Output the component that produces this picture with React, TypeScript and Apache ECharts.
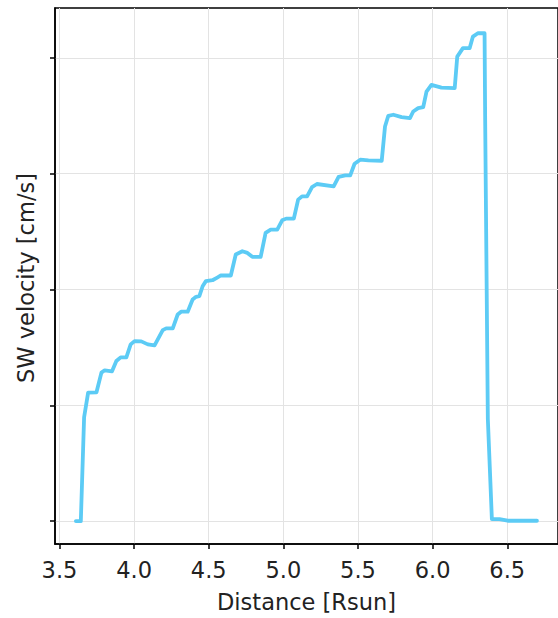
import React, { useEffect, useRef } from "react";
import * as echarts from "echarts";

// Distance [Rsun]
const distance: number[] = [
  3.61, 3.643, 3.665, 3.692, 3.748, 3.781, 3.803, 3.852, 3.881, 3.91,
  3.948, 3.977, 4.003, 4.048, 4.092, 4.137, 4.192, 4.215, 4.259, 4.292,
  4.315, 4.359, 4.392, 4.415, 4.437, 4.459, 4.481, 4.525, 4.557, 4.581,
  4.648, 4.681, 4.725, 4.759, 4.792, 4.848, 4.881, 4.915, 4.959, 4.992,
  5.019, 5.07, 5.099, 5.125, 5.159, 5.192, 5.225, 5.337, 5.37, 5.415,
  5.448, 5.477, 5.515, 5.57, 5.659, 5.681, 5.703, 5.737, 5.792, 5.848,
  5.87, 5.903, 5.937, 5.959, 5.992, 6.059, 6.148, 6.165, 6.203, 6.248,
  6.27, 6.303, 6.348, 6.352, 6.37, 6.388, 6.397, 6.448, 6.503, 6.699,
];

// SW velocity (arbitrary units, tick labels hidden in the original)
const velocity: number[] = [
  0, 0, 0.897, 1.109, 1.112, 1.282, 1.302, 1.293, 1.382, 1.414,
  1.414, 1.526, 1.554, 1.552, 1.526, 1.517, 1.649, 1.664, 1.664, 1.784,
  1.808, 1.808, 1.914, 1.937, 1.942, 2.028, 2.072, 2.08, 2.103, 2.121,
  2.121, 2.302, 2.33, 2.316, 2.282, 2.282, 2.489, 2.517, 2.517, 2.597,
  2.612, 2.612, 2.776, 2.804, 2.804, 2.885, 2.911, 2.891, 2.972, 2.985,
  2.985, 3.086, 3.121, 3.115, 3.112, 3.408, 3.5, 3.509, 3.489, 3.48,
  3.537, 3.566, 3.575, 3.709, 3.767, 3.744, 3.739, 4.011, 4.084, 4.084,
  4.184, 4.213, 4.213, 3.466, 0.879, 0.304, 0.017, 0.017, 0.003, 0.003,
];

const xTicks: number[] = [3.5, 4.0, 4.5, 5.0, 5.5, 6.0, 6.5];
const yTicks: number[] = [0, 1, 2, 3, 4];

const FONT = "'DejaVu Sans', sans-serif";
const TEXT = "#222222";

export default function App() {
  const ref = useRef<HTMLDivElement>(null);

  useEffect(() => {
    if (!ref.current) return;
    const chart = echarts.init(ref.current, null, { renderer: "svg" });
    const data = distance.map((d, i) => [d, velocity[i]]);
    chart.setOption({
      animation: false,
      backgroundColor: "#ffffff",
      grid: {
        left: 55,
        top: 8,
        right: -3,
        bottom: 73,
        show: true,
        borderColor: "#000",
        borderWidth: 1.5,
        backgroundColor: "transparent",
      },
      xAxis: {
        type: "value",
        min: 3.47,
        max: 6.84,
        name: "Distance [Rsun]",
        nameLocation: "middle",
        nameGap: 46,
        nameTextStyle: { fontFamily: FONT, fontSize: 22.5, color: TEXT },
        axisLine: { show: true, onZero: false, lineStyle: { color: "#000", width: 1.5 } },
        axisTick: {
          show: true,
          customValues: xTicks,
          length: 5,
          lineStyle: { color: "#000", width: 1.5 },
        },
        axisLabel: {
          customValues: xTicks,
          formatter: (v: number) => v.toFixed(1),
          fontFamily: FONT,
          fontSize: 22.5,
          color: TEXT,
          margin: 14,
        },
        splitLine: { show: true, lineStyle: { color: "#e3e3e3", width: 1 } },
      },
      yAxis: {
        type: "value",
        min: -0.198,
        max: 4.431,
        axisLine: { show: true, onZero: false, lineStyle: { color: "#000", width: 1.5 } },
        axisTick: {
          show: true,
          customValues: yTicks,
          length: 5,
          lineStyle: { color: "#000", width: 1.5 },
        },
        axisLabel: { show: false, customValues: yTicks },
        splitLine: { show: true, lineStyle: { color: "#e3e3e3", width: 1 } },
      },
      graphic: [
        {
          type: "text",
          x: 26,
          y: 278,
          rotation: Math.PI / 2,
          style: {
            text: "SW velocity [cm/s]",
            fontFamily: FONT,
            fontSize: 22.5,
            fill: TEXT,
            textAlign: "center",
            textVerticalAlign: "middle",
          },
        },
      ],
      series: [
        {
          type: "line",
          data,
          showSymbol: false,
          symbol: "none",
          smooth: false,
          lineStyle: { color: "#5ccbf5", width: 3.8, cap: "round", join: "round" },
          itemStyle: { color: "#5ccbf5" },
          z: 3,
        },
      ],
    });
    return () => chart.dispose();
  }, []);

  return (
    <div
      ref={ref}
      style={{ position: "fixed", left: 0, top: 0, width: 558, height: 618 }}
    />
  );
}
